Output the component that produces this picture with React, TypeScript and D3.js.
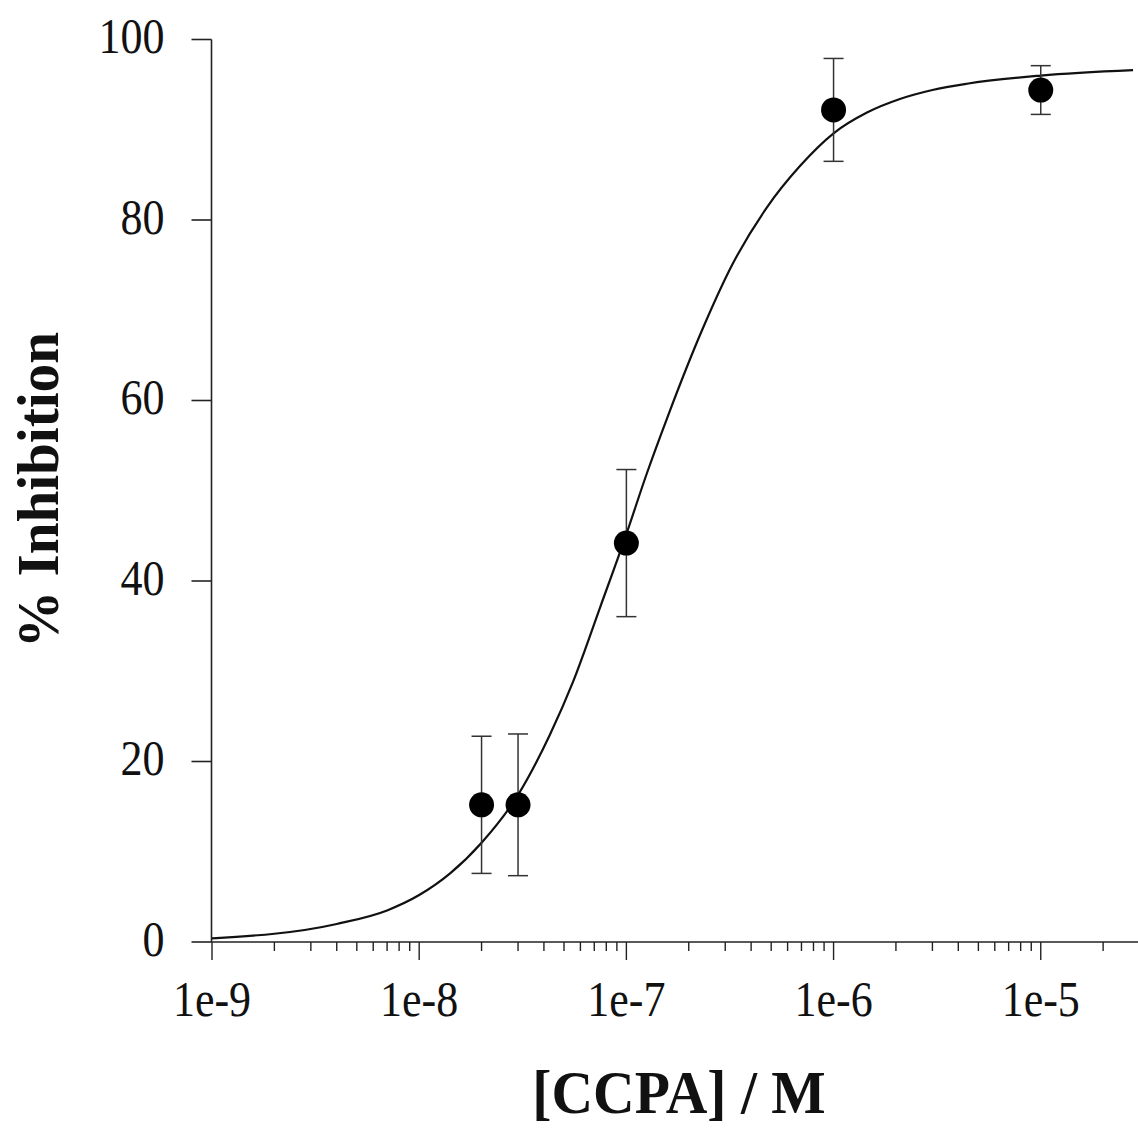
import React from "react";
import * as d3 from "d3";

// Measured inhibition (mean ± SEM) at each CCPA concentration
const concentrations = [2e-8, 3e-8, 1e-7, 1e-6, 1e-5];
const inhibition = [15.2, 15.2, 44.2, 92.2, 94.4];
const sem = [7.6, 7.85, 8.15, 5.7, 2.7];

// Fitted concentration-response curve
const fitConc = [
  1e-9, 4e-9, 7e-9, 1e-8, 1.41e-8, 2e-8, 3e-8, 4.28e-8, 5.52e-8, 7.5e-8, 1e-7,
  1.25e-7, 1.57e-7, 2.34e-7, 3.27e-7, 4.77e-7, 6.9e-7, 1e-6, 1.45e-6, 2.09e-6,
  3e-6, 4.4e-6, 1e-5, 2.79e-5,
];
const fitInhibition = [
  0.4, 2.0, 3.5, 5.2, 7.6, 11.0, 16.3, 23.0, 28.8, 37.2, 45.2,
  51.8, 58.0, 68.0, 75.2, 81.4, 86.0, 89.6, 91.9, 93.4,
  94.4, 95.1, 96.0, 96.6,
];

const yTicks = [0, 20, 40, 60, 80, 100];
const xTickLabels = ["1e-9", "1e-8", "1e-7", "1e-6", "1e-5"];

const W = 1138;
const H = 1128;
const FONT = "'Liberation Serif', 'Times New Roman', serif";

export default function App() {
  const x = d3.scaleLog().domain([1e-9, 3e-5]).range([212, 1139.6]);
  const y = d3.scaleLinear().domain([0, 100]).range([942, 39.5]);
  const axisX = 211.5;

  const line = d3
    .line<number>()
    .x((_, i) => x(fitConc[i]))
    .y((d) => y(d))
    .curve(d3.curveMonotoneX);

  const logTicks = x.ticks();

  return (
    <svg
      width={W}
      height={H}
      style={{ position: "absolute", left: 0, top: 0, background: "#fff" }}
      fontFamily={FONT}
    >
      <rect width={W} height={H} fill="#fff" />

      {/* y axis */}
      <line x1={axisX} x2={axisX} y1={y(100)} y2={y(0)} stroke="#222" strokeWidth={1.6} />
      {yTicks.map((t) => (
        <g key={"y" + t}>
          <line x1={axisX - 20} x2={axisX} y1={y(t)} y2={y(t)} stroke="#222" strokeWidth={1.6} />
          <text
            transform={`translate(${axisX - 47},${y(t) - 3}) scale(0.88,1)`}
            textAnchor="end"
            dominantBaseline="central"
            fontSize={50}
            fill="#111"
          >
            {t}
          </text>
        </g>
      ))}

      {/* x axis */}
      <line x1={axisX} x2={x.range()[1]} y1={y(0)} y2={y(0)} stroke="#222" strokeWidth={1.6} />
      {logTicks.map((t) => {
        const lg = Math.log10(t);
        const major = Math.abs(lg - Math.round(lg)) < 1e-9;
        return (
          <line
            key={"xt" + t}
            x1={x(t)}
            x2={x(t)}
            y1={y(0)}
            y2={y(0) + (major ? 18 : 9)}
            stroke="#222"
            strokeWidth={1.4}
          />
        );
      })}
      {xTickLabels.map((lab) => (
        <text
          key={"xl" + lab}
          transform={`translate(${x(+lab)},1016) scale(0.88,1)`}
          textAnchor="middle"
          fontSize={50}
          fill="#111"
        >
          {lab}
        </text>
      ))}

      {/* axis titles */}
      <text
        transform={`translate(679,1113) scale(0.93,1)`}
        textAnchor="middle"
        fontSize={62}
        fontWeight="bold"
        fill="#111"
      >
        [CCPA] / M
      </text>
      <text
        transform={`translate(58,490) rotate(-90) scale(0.952,1)`}
        textAnchor="middle"
        fontSize={60}
        fontWeight="bold"
        fill="#111"
      >
        % Inhibition
      </text>

      {/* fitted curve */}
      <path d={line(fitInhibition) || ""} fill="none" stroke="#111" strokeWidth={2.2} />

      {/* error bars */}
      {concentrations.map((c, i) => {
        const cx = x(c);
        const top = y(inhibition[i] + sem[i]);
        const bot = y(inhibition[i] - sem[i]);
        return (
          <g key={"e" + i} stroke="#333" strokeWidth={1.5}>
            <line x1={cx} x2={cx} y1={top} y2={bot} />
            <line x1={cx - 10} x2={cx + 10} y1={top} y2={top} />
            <line x1={cx - 10} x2={cx + 10} y1={bot} y2={bot} />
          </g>
        );
      })}

      {/* data points */}
      {concentrations.map((c, i) => (
        <circle key={"p" + i} cx={x(c)} cy={y(inhibition[i])} r={12.5} fill="#000" />
      ))}
    </svg>
  );
}
